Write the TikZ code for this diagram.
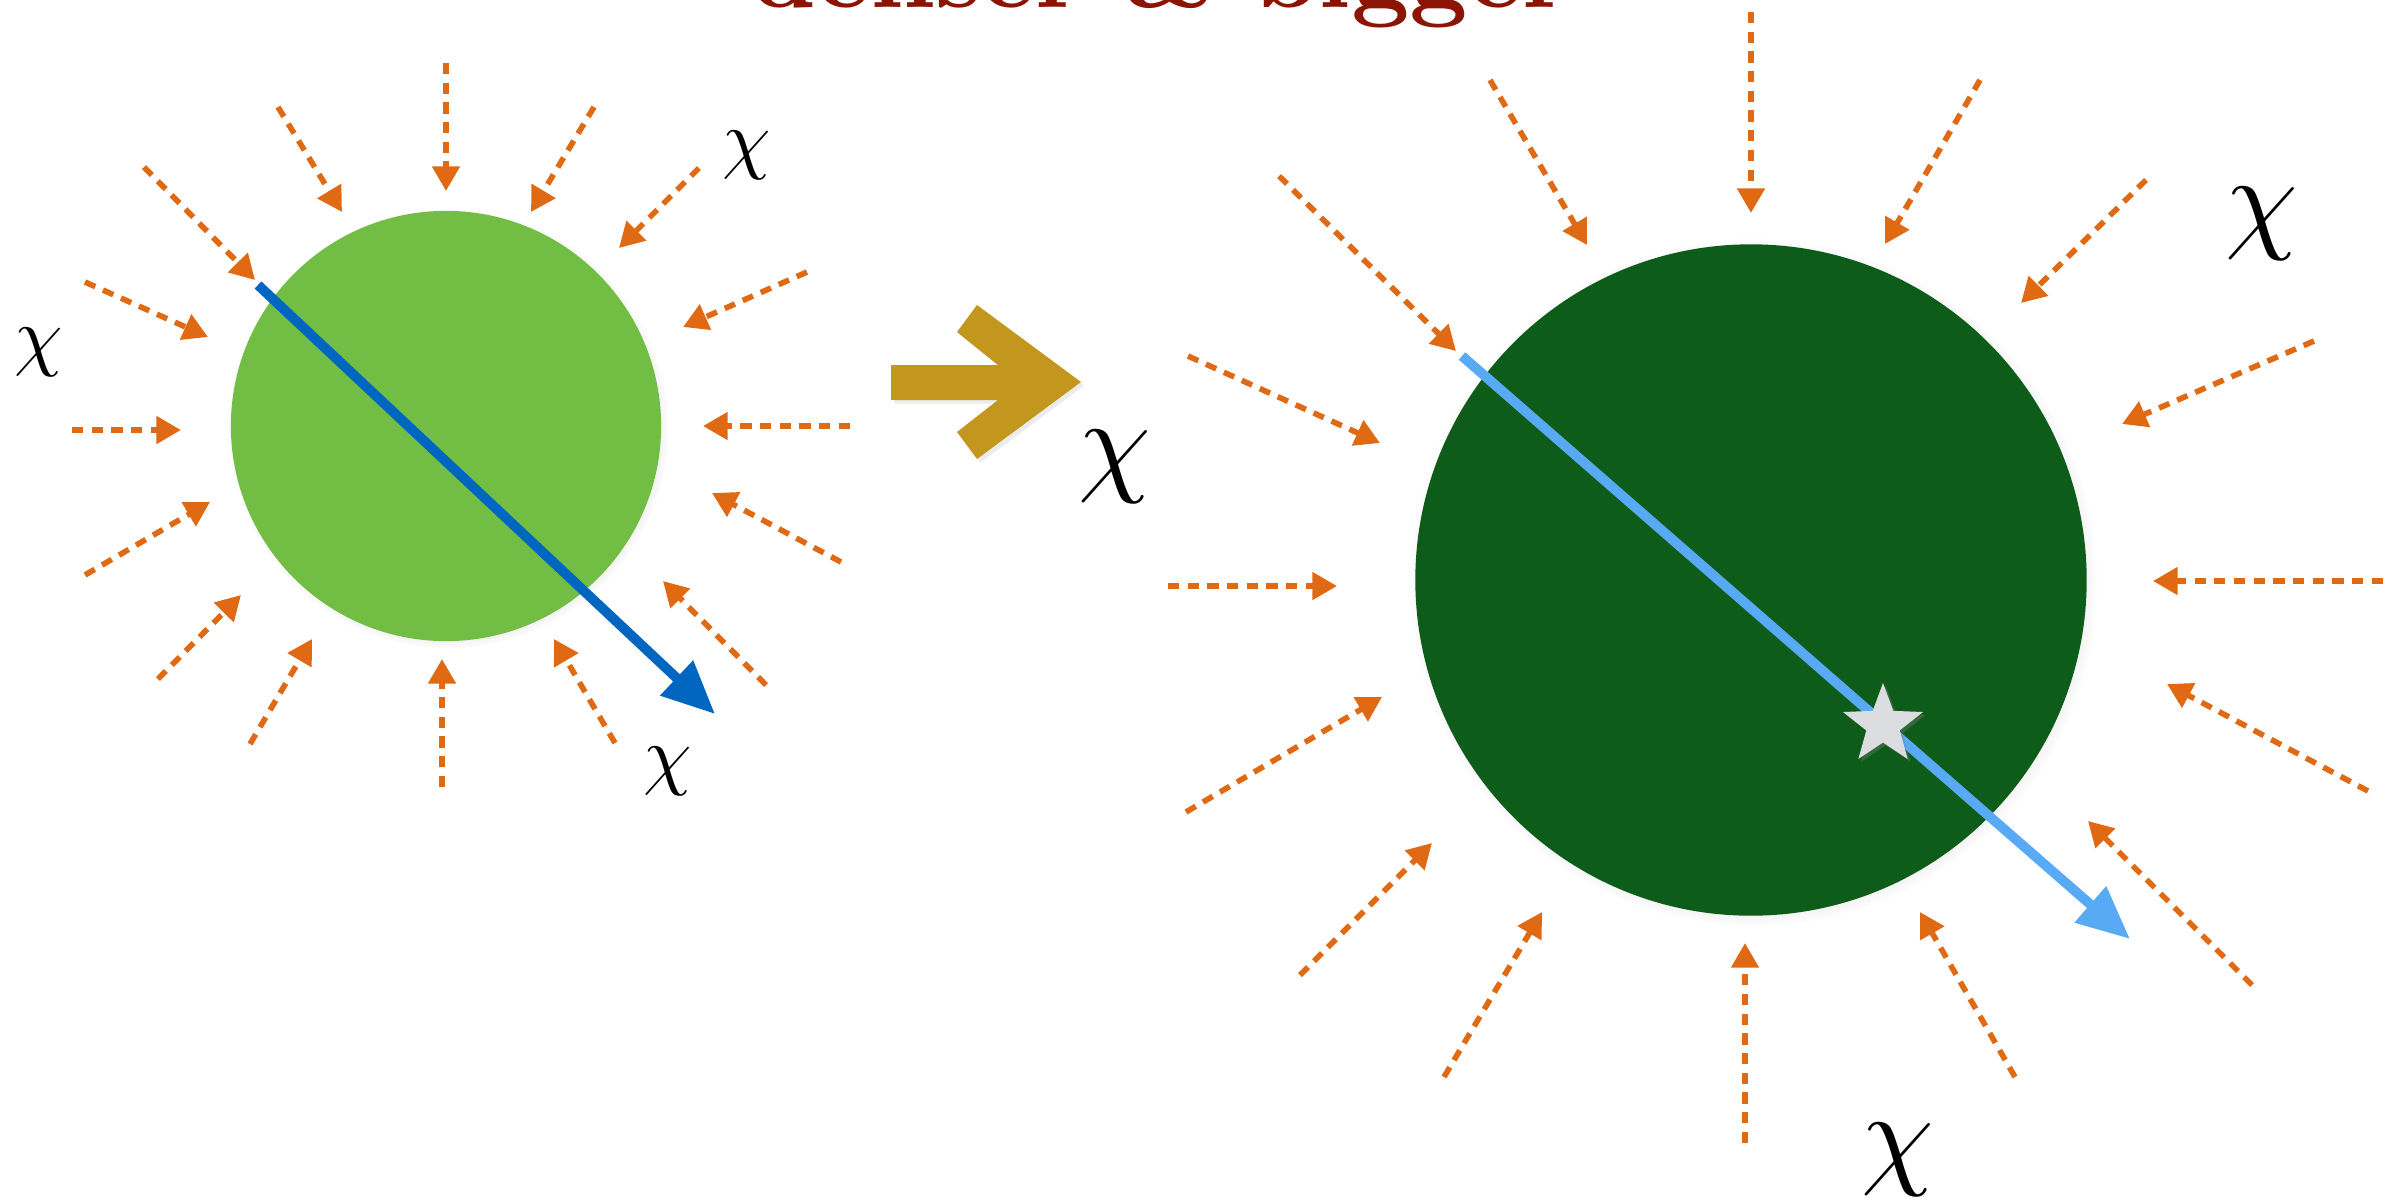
\documentclass[tikz,border=0pt]{standalone}
\usetikzlibrary{arrows.meta,shadows,shapes.geometric}
\definecolor{ember}{RGB}{224,105,20}
\definecolor{darkblue}{RGB}{0,102,192}
\definecolor{paleblue}{RGB}{88,170,245}
\definecolor{lightgreen}{RGB}{114,190,68}
\definecolor{deepgreen}{RGB}{14,92,26}
\definecolor{goldarrow}{RGB}{195,150,30}
\definecolor{titlered}{RGB}{140,20,5}
\definecolor{stargray}{RGB}{220,221,225}
\tikzset{
  inflow/.style={draw=ember, line width=1.6pt, dash pattern=on 3.2pt off 2.4pt,
    -{Triangle[length=7pt,width=7.6pt]}},
  track/.style={line width=2.8pt, -{Triangle[length=15pt,width=13pt]}},
  body/.style={circle, inner sep=0pt,
    circular drop shadow={shadow scale=1.025, shadow xshift=0.6pt, shadow yshift=-0.6pt, opacity=0.35}},
}
\begin{document}
\begin{tikzpicture}[x=0.01cm, y=-0.01cm]
\useasboundingbox (0,0) rectangle (2402,1202);
\clip (0,0) rectangle (2402,1202);
\node[text=titlered, font=\bfseries, scale=2.9, anchor=base] (title) at (1161,7) {denser \& bigger};
\begin{scope}
    \node[body, fill=lightgreen, minimum size=4.3cm] (small) at (446,426) {};
    \foreach \xa/\ya/\xb/\yb in {446/63/446/191, 278/107/342/212, 594/107/531/212,
        144/167/255/280, 699/168/619/248, 85/282/208/337, 807/272/683/327,
        72/430/181/430, 850/426/703/426, 85/575/210/502, 841/562/712/493,
        158/679/241/595, 766/685/663/581, 250/744/312/639, 615/743/554/639,
        442/787/442/659}
        \draw[inflow] (\xa,\ya) -- (\xb,\yb);
    \coordinate (inA) at (258,285);
    \coordinate (outA) at (715,714);
    \draw[track, darkblue] (inA) -- (outA);
    \node[scale=2.2] (chiA) at (747,155) {$\chi$};
    \node[scale=2.2] (chiB) at (39,352) {$\chi$};
    \node[scale=2.2] (chiC) at (668,771) {$\chi$};
\end{scope}
\fill[goldarrow, drop shadow={opacity=0.15, shadow xshift=1pt, shadow yshift=-1pt}]
    (891,365) -- (998,365) -- (957,332) -- (977,305) -- (1081,382)
    -- (977,459) -- (957,432) -- (998,400) -- (891,400) -- cycle;
\begin{scope}
    \node[body, fill=deepgreen, minimum size=6.71cm] (big) at (1751,580) {};
    \foreach \xa/\ya/\xb/\yb in {1751/12/1751/213, 1490/80/1587/245, 1980/80/1885/244,
        1279/176/1456/351, 2146/180/2021/303, 1188/356/1380/443, 2314/341/2122/424,
        1168/586/1337/586, 2383/581/2153/581, 1186/812/1382/697, 2368/791/2167/684,
        1300/975/1432/843, 2252/985/2088/821, 1444/1077/1542/912, 2015/1077/1920/912,
        1745/1143/1745/943}
        \draw[inflow] (\xa,\ya) -- (\xb,\yb);
    \coordinate (inB) at (1462,356);
    \coordinate (outB) at (2130,939);
    \draw[track, paleblue] (inB) -- (outB);
    \node[star, star points=5, star point ratio=2.4, inner sep=0pt, minimum size=0.84cm,
        fill=stargray, drop shadow={opacity=0.35, shadow xshift=0.8pt, shadow yshift=-0.8pt}] (hit) at (1883,725) {};
    \node[scale=3.3] (chiD) at (1115,467) {$\chi$};
    \node[scale=3.3] (chiE) at (2262,224) {$\chi$};
    \node[scale=3.3] (chiF) at (1898,1160) {$\chi$};
\end{scope}
\end{tikzpicture}
\end{document}
